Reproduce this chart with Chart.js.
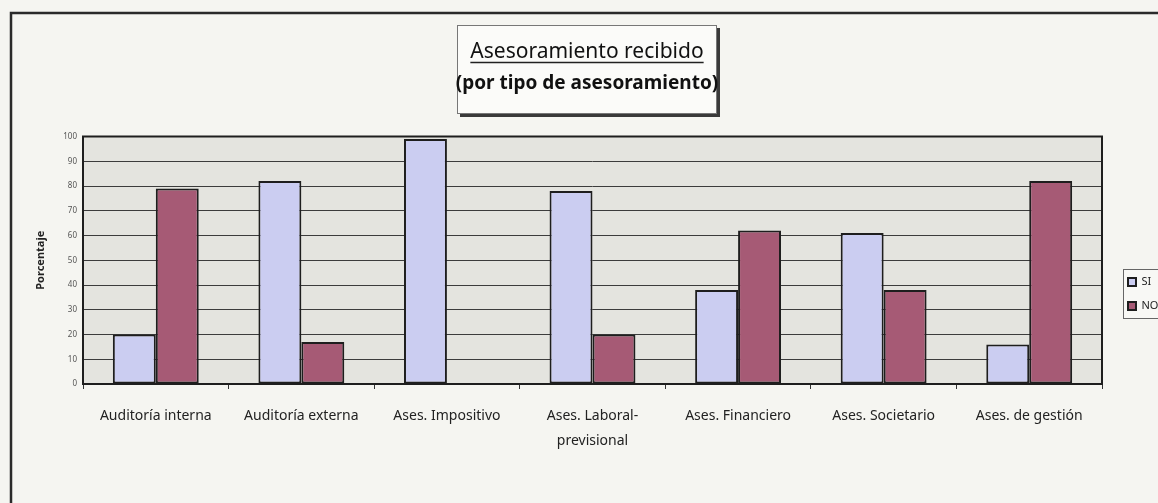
<!DOCTYPE html>
<html>
<head>
<meta charset="utf-8">
<script src="https://cdn.jsdelivr.net/npm/chart.js@4/dist/chart.umd.min.js"></script>
<style>
  html, body { margin: 0; padding: 0; background: #f5f5f1; }
  #wrap { width: 1158px; height: 503px; position: relative; }
  canvas { display: block; }
</style>
</head>
<body>
<div id="wrap"><canvas id="c" width="1158" height="503"></canvas></div>
<script>
const categories = ['Auditoría interna', 'Auditoría externa', 'Ases. Impositivo', ['Ases. Laboral-', 'previsional'], 'Ases. Financiero', 'Ases. Societario', 'Ases. de gestión'];
const siValues = [20, 82, 99, 78, 38, 61, 16];
const noValues = [79, 17, null, 20, 62, 38, 82];
const yTicks = [0, 10, 20, 30, 40, 50, 60, 70, 80, 90, 100];
const seriesNames = ['SI', 'NO'];
const titleText = 'Asesoramiento recibido';
const subtitleText = '(por tipo de asesoramiento)';
const yTitle = 'Porcentaje';

const FONT = "'Noto Sans', 'DejaVu Sans', sans-serif";
Chart.defaults.font.family = FONT;

const decor = {
  id: 'decor',
  beforeDraw(chart) {
    const ctx = chart.ctx;
    const a = chart.chartArea;
    ctx.save();
    // outer frame
    ctx.strokeStyle = '#2a2a2a';
    ctx.lineWidth = 2.5;
    ctx.beginPath();
    ctx.moveTo(11, 503);
    ctx.lineTo(11, 13);
    ctx.lineTo(1158, 13);
    ctx.stroke();
    // title box with shadow
    ctx.fillStyle = '#3a3a3a';
    ctx.fillRect(460, 28, 260, 89);
    ctx.fillStyle = '#fbfbf9';
    ctx.fillRect(457, 25, 260, 89);
    ctx.strokeStyle = '#777';
    ctx.lineWidth = 1;
    ctx.strokeRect(457.5, 25.5, 259, 88);
    // plot background
    ctx.fillStyle = '#e4e4df';
    ctx.fillRect(a.left, a.top, a.right - a.left, a.bottom - a.top);
    // legend box
    ctx.fillStyle = '#f8f8f5';
    ctx.fillRect(1123, 269, 40, 50);
    ctx.strokeStyle = '#666';
    ctx.strokeRect(1123.5, 269.5, 40, 49);
    ctx.restore();
    // reposition legend
    const lg = chart.legend;
    if (lg) {
      lg.left = 1115; lg.right = 1158; lg.top = 263.5; lg.bottom = 345;
      lg.width = lg.right - lg.left; lg.height = lg.bottom - lg.top;
    }
  },
  afterDatasetsDraw(chart) {
    const ctx = chart.ctx;
    const a = chart.chartArea;
    ctx.save();
    ctx.strokeStyle = '#1e1e1e';
    ctx.lineWidth = 2;
    ctx.strokeRect(a.left, a.top, a.right - a.left, a.bottom - a.top);
    ctx.restore();
  },
  afterDraw(chart) {
    const ctx = chart.ctx;
    const t = chart.titleBlock;
    ctx.save();
    ctx.font = "21px " + FONT;
    const w = ctx.measureText(titleText).width;
    const cx = (t.left + t.right) / 2;
    ctx.strokeStyle = '#222';
    ctx.lineWidth = 1.3;
    ctx.beginPath();
    ctx.moveTo(cx - w / 2, 62.5);
    ctx.lineTo(cx + w / 2, 62.5);
    ctx.stroke();
    ctx.restore();
  }
};

new Chart(document.getElementById('c'), {
  type: 'bar',
  data: {
    labels: categories,
    datasets: [
      { label: seriesNames[0], data: siValues, backgroundColor: '#cbcdf1', borderColor: '#1e1e1e', borderWidth: 2, borderSkipped: false },
      { label: seriesNames[1], data: noValues, backgroundColor: '#a65a75', borderColor: '#1e1e1e', borderWidth: 2, borderSkipped: false }
    ]
  },
  options: {
    responsive: false,
    animation: false,
    layout: { padding: { left: 32, right: 16, top: 0, bottom: 49 } },
    datasets: { bar: { categoryPercentage: 0.59, barPercentage: 1.0 } },
    plugins: {
      title: {
        display: true, text: titleText, color: '#111',
        font: { size: 21, weight: 'normal', family: FONT, lineHeight: 1.2 },
        padding: { top: 39, bottom: 8.4 }
      },
      subtitle: {
        display: true, text: subtitleText, color: '#111',
        font: { size: 19, weight: 'bold', family: FONT, lineHeight: 1.2 },
        padding: { top: 0, bottom: 41.1 }
      },
      legend: {
        display: true, position: 'right', align: 'start', maxWidth: 40,
        labels: { boxWidth: 8, boxHeight: 8, padding: 13, color: '#222', font: { size: 11, family: FONT } }
      },
      tooltip: { enabled: false }
    },
    scales: {
      x: {
        afterFit(s) { s.height = 70; },
        grid: { display: true, offset: true, drawOnChartArea: false, drawTicks: true, tickLength: 5, color: '#333', lineWidth: 1 },
        border: { display: false },
        ticks: { color: '#222', padding: 14, maxRotation: 0, autoSkip: false, font: { size: 14, family: FONT, lineHeight: 1.8 } }
      },
      y: {
        min: 0, max: 100,
        afterFit(s) { s.width = 51; },
        afterBuildTicks(s) { s.ticks = yTicks.map(v => ({ value: v })); },
        grid: { color: '#3c3c3c', lineWidth: 1, drawTicks: false },
        border: { display: false },
        ticks: { color: '#555', padding: 6, font: { size: 8, family: FONT } },
        title: { display: true, text: yTitle, color: '#222', padding: { top: 2, bottom: 0 }, font: { size: 11, weight: 'bold', family: FONT, lineHeight: 1.2 } }
      }
    }
  },
  plugins: [decor]
});
</script>
</body>
</html>
